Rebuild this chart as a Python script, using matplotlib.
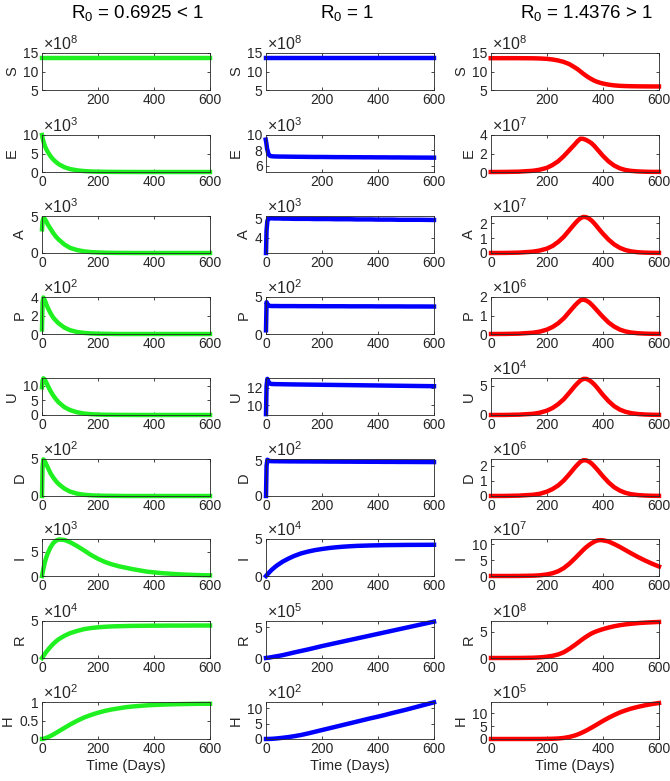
import matplotlib.pyplot as plt

plt.rcParams['font.family'] = ['Liberation Sans', 'DejaVu Sans']
plt.rcParams['mathtext.fontset'] = 'custom'
plt.rcParams['mathtext.rm'] = 'Liberation Sans'
plt.rcParams['mathtext.it'] = 'Liberation Sans:italic'

# time grids (days)
days_early = [0, 2, 5, 10, 15, 20, 30, 40, 50, 60, 80, 100, 125, 150, 175, 200, 225, 250,
              275, 300, 325, 350, 375, 400, 425, 450, 475, 500, 550, 600]
days_late = [0, 50, 100, 150, 175, 200, 220, 240, 260, 280, 300, 310, 320, 330, 340, 350,
             360, 370, 380, 390, 400, 420, 440, 460, 480, 500, 525, 550, 575, 600]

compartments = ['S', 'E', 'A', 'P', 'U', 'D', 'I', 'R', 'H']
titles = ['R$_0$ = 0.6925 < 1', 'R$_0$ = 1', 'R$_0$ = 1.4376 > 1']

# ---- R0 < 1 (values shown in units of 10^exp) ----
S_low = [13.6, 13.6, 13.6, 13.6, 13.6, 13.6, 13.6, 13.6, 13.6, 13.6, 13.6, 13.6, 13.6, 13.6, 13.6,
         13.6, 13.6, 13.6, 13.6, 13.6, 13.6, 13.6, 13.6, 13.6, 13.6, 13.6, 13.6, 13.6, 13.6, 13.6]
E_low = [10.0, 9.2, 8.3, 7.1, 6.2, 5.5, 4.3, 3.4, 2.7, 2.1, 1.3, 0.8, 0.45, 0.25, 0.14,
         0.08, 0.05, 0.03, 0.02, 0.01, 0.01, 0, 0, 0, 0, 0, 0, 0, 0, 0]
A_low = [3.2, 4.3, 4.7, 4.6, 4.3, 3.9, 3.3, 2.7, 2.2, 1.8, 1.15, 0.7, 0.4, 0.22, 0.12,
         0.07, 0.04, 0.02, 0.01, 0.01, 0, 0, 0, 0, 0, 0, 0, 0, 0, 0]
P_low = [0.5, 3.5, 4.0, 3.7, 3.3, 2.9, 2.3, 1.8, 1.45, 1.15, 0.7, 0.42, 0.22, 0.12, 0.06,
         0.03, 0.02, 0.01, 0, 0, 0, 0, 0, 0, 0, 0, 0, 0, 0, 0]
U_low = [9.5, 11.8, 12.6, 12.2, 11.2, 10.2, 8.3, 6.7, 5.4, 4.3, 2.7, 1.7, 0.95, 0.5, 0.28,
         0.15, 0.08, 0.05, 0.03, 0.02, 0.01, 0, 0, 0, 0, 0, 0, 0, 0, 0]
D_low = [0.0, 4.0, 4.95, 4.7, 4.3, 3.9, 3.1, 2.5, 2.0, 1.6, 1.0, 0.6, 0.32, 0.17, 0.09,
         0.05, 0.03, 0.02, 0.01, 0, 0, 0, 0, 0, 0, 0, 0, 0, 0, 0]
I_low = [0.0, 0.6, 1.5, 2.8, 3.8, 4.6, 5.9, 6.8, 7.3, 7.55, 7.45, 7.0, 6.2, 5.3, 4.35,
         3.55, 2.9, 2.4, 2.0, 1.7, 1.4, 1.15, 0.9, 0.75, 0.6, 0.5, 0.4, 0.32, 0.2, 0.13]
R_low = [0.0, 0.1, 0.28, 0.55, 0.82, 1.05, 1.5, 1.9, 2.25, 2.55, 3.0, 3.35, 3.65, 3.9, 4.05,
         4.15, 4.22, 4.27, 4.3, 4.32, 4.34, 4.35, 4.36, 4.37, 4.37, 4.38, 4.38, 4.38, 4.39, 4.39]
H_low = [0.0, 0.0, 0.005, 0.015, 0.03, 0.045, 0.08, 0.12, 0.165, 0.21, 0.3, 0.39, 0.49, 0.58, 0.65,
         0.71, 0.76, 0.8, 0.83, 0.86, 0.88, 0.895, 0.91, 0.92, 0.928, 0.935, 0.94, 0.944, 0.95, 0.953]

# ---- R0 = 1 ----
S_mid = [13.6, 13.6, 13.6, 13.6, 13.6, 13.6, 13.6, 13.6, 13.6, 13.6, 13.6, 13.6, 13.6, 13.6, 13.6,
         13.6, 13.6, 13.6, 13.6, 13.6, 13.6, 13.6, 13.6, 13.6, 13.6, 13.6, 13.6, 13.6, 13.6, 13.6]
E_mid = [9.4, 9.0, 8.2, 7.5, 7.3, 7.25, 7.22, 7.21, 7.2, 7.2, 7.19, 7.18, 7.17, 7.16, 7.15,
         7.15, 7.14, 7.13, 7.13, 7.12, 7.12, 7.11, 7.11, 7.1, 7.1, 7.09, 7.09, 7.08, 7.07, 7.06]
A_mid = [3.2, 4.4, 4.9, 5.02, 5.03, 5.03, 5.02, 5.02, 5.02, 5.01, 5.01, 5.0, 5.0, 5.0, 4.99,
         4.99, 4.99, 4.98, 4.98, 4.98, 4.97, 4.97, 4.97, 4.96, 4.96, 4.96, 4.95, 4.95, 4.95, 4.94]
P_mid = [0.5, 4.3, 4.05, 3.82, 3.79, 3.78, 3.78, 3.78, 3.77, 3.77, 3.77, 3.77, 3.76, 3.76, 3.76,
         3.75, 3.75, 3.75, 3.75, 3.74, 3.74, 3.74, 3.74, 3.73, 3.73, 3.73, 3.73, 3.72, 3.72, 3.71]
U_mid = [9.0, 12.2, 13.0, 12.6, 12.45, 12.42, 12.41, 12.4, 12.4, 12.39, 12.38, 12.37, 12.36, 12.35, 12.34,
         12.33, 12.32, 12.31, 12.3, 12.29, 12.28, 12.27, 12.26, 12.25, 12.24, 12.23, 12.22, 12.21, 12.19, 12.17]
D_mid = [0.0, 4.2, 5.05, 4.9, 4.86, 4.85, 4.84, 4.84, 4.83, 4.83, 4.82, 4.82, 4.81, 4.81, 4.8,
         4.8, 4.79, 4.79, 4.78, 4.78, 4.77, 4.77, 4.76, 4.76, 4.75, 4.75, 4.74, 4.74, 4.73, 4.72]
I_mid = [0.0, 0.09, 0.22, 0.43, 0.63, 0.82, 1.15, 1.45, 1.7, 1.95, 2.35, 2.7, 3.05, 3.3, 3.5,
         3.65, 3.78, 3.88, 3.96, 4.02, 4.07, 4.1, 4.13, 4.15, 4.17, 4.18, 4.19, 4.2, 4.21, 4.22]
R_mid = [0.0, 0.01, 0.03, 0.06, 0.1, 0.14, 0.22, 0.3, 0.38, 0.47, 0.68, 0.9, 1.15, 1.4, 1.67,
         1.95, 2.2, 2.45, 2.7, 2.95, 3.2, 3.45, 3.7, 3.95, 4.2, 4.45, 4.7, 4.95, 5.45, 5.95]
H_mid = [0.0, 0.0, 0.01, 0.02, 0.04, 0.06, 0.12, 0.2, 0.3, 0.4, 0.62, 0.9, 1.3, 1.8, 2.35,
         2.9, 3.45, 4.0, 4.55, 5.1, 5.65, 6.2, 6.75, 7.25, 7.8, 8.4, 8.95, 9.5, 10.7, 11.9]

# ---- R0 > 1 (on days_late) ----
S_high = [13.6, 13.6, 13.6, 13.57, 13.52, 13.42, 13.25, 12.98, 12.6, 12.0, 11.1, 10.6, 10.0, 9.4, 8.85,
          8.35, 7.9, 7.5, 7.2, 6.95, 6.75, 6.45, 6.25, 6.13, 6.06, 6.02, 5.99, 5.97, 5.96, 5.95]
E_high = [0.0, 0.008, 0.035, 0.13, 0.25, 0.45, 0.75, 1.15, 1.7, 2.35, 3.0, 3.35, 3.6, 3.58, 3.47,
          3.3, 3.1, 2.8, 2.45, 2.1, 1.75, 1.15, 0.7, 0.4, 0.22, 0.12, 0.06, 0.03, 0.015, 0.01]
A_high = [0.0, 0.005, 0.025, 0.09, 0.17, 0.3, 0.48, 0.75, 1.1, 1.55, 2.0, 2.2, 2.36, 2.44, 2.42,
          2.33, 2.18, 1.98, 1.75, 1.52, 1.3, 0.9, 0.58, 0.35, 0.2, 0.11, 0.05, 0.025, 0.012, 0.006]
P_high = [0.0, 0.004, 0.02, 0.07, 0.13, 0.24, 0.38, 0.58, 0.85, 1.2, 1.55, 1.7, 1.83, 1.86, 1.81,
          1.72, 1.58, 1.42, 1.25, 1.08, 0.92, 0.62, 0.4, 0.24, 0.14, 0.08, 0.04, 0.02, 0.01, 0.005]
U_high = [0.0, 0.01, 0.06, 0.2, 0.4, 0.75, 1.2, 1.85, 2.7, 3.8, 4.95, 5.45, 5.9, 6.15, 6.15,
          5.95, 5.6, 5.15, 4.6, 4.0, 3.4, 2.35, 1.5, 0.92, 0.55, 0.32, 0.16, 0.08, 0.04, 0.02]
D_high = [0.0, 0.005, 0.025, 0.08, 0.15, 0.29, 0.46, 0.7, 1.03, 1.45, 1.9, 2.1, 2.28, 2.37, 2.36,
          2.28, 2.14, 1.95, 1.74, 1.52, 1.3, 0.9, 0.58, 0.36, 0.21, 0.12, 0.06, 0.03, 0.015, 0.008]
I_high = [0.0, 0.002, 0.02, 0.1, 0.22, 0.5, 0.88, 1.5, 2.5, 3.9, 5.6, 6.5, 7.4, 8.3, 9.1,
          9.8, 10.4, 10.9, 11.25, 11.35, 11.3, 10.9, 10.1, 9.2, 8.2, 7.2, 6.0, 4.9, 3.9, 3.0]
R_high = [0.0, 0.001, 0.01, 0.05, 0.12, 0.25, 0.42, 0.68, 1.1, 1.75, 2.5, 2.9, 3.3, 3.7, 4.05,
          4.4, 4.7, 4.95, 5.15, 5.33, 5.5, 5.8, 6.05, 6.25, 6.4, 6.52, 6.65, 6.74, 6.81, 6.87]
H_high = [0.0, 0.0, 0.001, 0.01, 0.02, 0.05, 0.1, 0.2, 0.42, 0.8, 1.4, 1.8, 2.25, 2.75, 3.3,
          3.9, 4.5, 5.15, 5.8, 6.45, 7.1, 8.3, 9.4, 10.4, 11.2, 11.9, 12.6, 13.2, 13.7, 14.1]

# axis settings per panel
ylims_low = [(5, 15), (0, 10), (0, 5), (0, 4.05), (0, 12.7), (0, 5), (0, 7.65), (0, 5), (0, 1)]
ylims_mid = [(5, 15), (5.2, 10), (3.2, 5.15), (0, 5), (8.9, 13.1), (0, 5.15), (0, 5), (0, 6.05), (0, 12)]
ylims_high = [(5, 15), (0, 4), (0, 2.5), (0, 2), (0, 6.3), (0, 2.45), (0, 11.7), (0, 7.05), (0, 14.5)]
yticks_low = [[5, 10, 15], [0, 5, 10], [0, 5], [0, 2, 4], [0, 5, 10], [0, 5], [0, 5], [0, 5], [0, 0.5, 1]]
yticks_mid = [[5, 10, 15], [6, 8, 10], [4, 5], [0, 5], [10, 12], [0, 5], [0, 5], [0, 5], [0, 5, 10]]
yticks_high = [[5, 10, 15], [0, 2, 4], [0, 1, 2], [0, 1, 2], [0, 5], [0, 1, 2], [0, 5, 10], [0, 5], [0, 5, 10]]
exps_low = [8, 3, 3, 2, None, 2, 3, 4, 2]
exps_mid = [8, 3, 3, 2, None, 2, 4, 5, 2]
exps_high = [8, 7, 7, 6, 4, 6, 7, 8, 5]
# panels whose x axis starts at day 1 (no 0 tick)
start_at_one = [(0, 0), (1, 0), (1, 1), (2, 0), (2, 1)]

columns = [
    (days_early, [S_low, E_low, A_low, P_low, U_low, D_low, I_low, R_low, H_low],
     ylims_low, yticks_low, exps_low, '#1ff01f'),
    (days_early, [S_mid, E_mid, A_mid, P_mid, U_mid, D_mid, I_mid, R_mid, H_mid],
     ylims_mid, yticks_mid, exps_mid, '#0000ff'),
    (days_late, [S_high, E_high, A_high, P_high, U_high, D_high, I_high, R_high, H_high],
     ylims_high, yticks_high, exps_high, '#ff0000'),
]

W, H = 670, 781
fig = plt.figure(figsize=(6.7, 7.81), dpi=100)
lefts = [42, 266, 491]
tops = [53, 135, 216, 297, 378, 459, 539, 621, 702]
aw, ah = 168, 37
title_x = [138, 347, 587]
edge = '#262626'

for c, (t, series, ylims, yticks, exps, color) in enumerate(columns):
    for r in range(9):
        ax = fig.add_axes([lefts[c] / W, 1 - (tops[r] + ah) / H, aw / W, ah / H])
        ax.plot(t, series[r], color=color, lw=3.2, clip_on=False)
        if (c, r) in start_at_one:
            ax.set_xlim(1, 600)
            ax.set_xticks([200, 400, 600])
        else:
            ax.set_xlim(0, 600)
            ax.set_xticks([0, 200, 400, 600])
        ax.set_ylim(*ylims[r])
        ax.set_yticks(yticks[r])
        ax.set_yticklabels([('%g' % v) for v in yticks[r]])
        ax.tick_params(direction='in', top=True, right=True, length=2.5, width=0.6,
                       labelsize=10, colors=edge, pad=2.5)
        for s in ax.spines.values():
            s.set_linewidth(0.6)
            s.set_color(edge)
        ax.set_ylabel(compartments[r], fontsize=10.5, color=edge, labelpad=3)
        if exps[r] is not None:
            ax.text(0.005, 0.99, '×10$^{%d}$' % exps[r], transform=ax.transAxes,
                    ha='left', va='bottom', fontsize=11.5, color=edge)
        if r == 8:
            ax.set_xlabel('Time (Days)', fontsize=10.5, color=edge, labelpad=2)
    fig.text(title_x[c] / W, 1 - 18 / H, titles[c], ha='center', va='baseline',
             fontsize=13.5, color='black')

fig.savefig('out.png', dpi=100)
